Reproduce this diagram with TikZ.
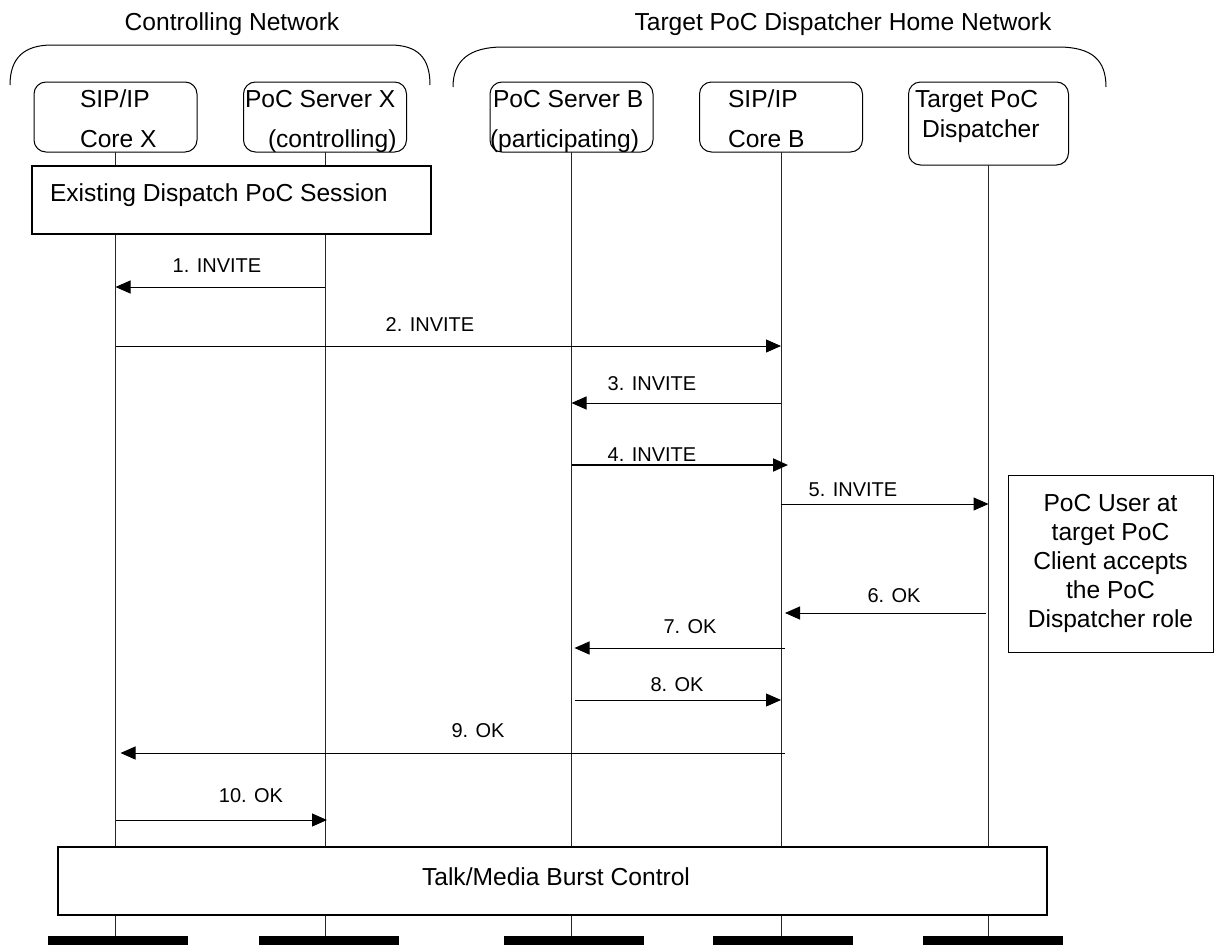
\documentclass[tikz,border=0pt]{standalone}
\usepackage{fontspec}
\setmainfont{Liberation Sans}
\usetikzlibrary{arrows.meta}
\begin{document}
\begin{tikzpicture}[x=1pt,y=-1pt,
  every node/.style={inner sep=0pt, outer sep=0pt},
  big/.style={font=\fontsize{24.6pt}{29pt}\selectfont},
  small/.style={font=\fontsize{20pt}{24pt}\selectfont},
  ent/.style={draw, rounded corners=12pt, line width=1pt, minimum width=163pt, minimum height=70pt},
  txt/.style={big, anchor=base west},
  life/.style={line width=0.9pt, draw=black!85},
  msg/.style={line width=1pt, -{Triangle[length=15pt,width=13pt]}},
  msgb/.style={line width=2pt, -{Triangle[length=15pt,width=13pt]}},
  lab/.style={small, anchor=center},
  sbox/.style={draw, fill=white, line width=1.3pt},
  barn/.style={fill=black, minimum width=140pt, minimum height=9pt},
  net/.style={line width=1pt}]
\useasboundingbox (0,0) rectangle (1219,945);

% network titles and brackets
\node[big, anchor=base] (tn1) at (232,30) {Controlling Network};
\node[big, anchor=base] (tn2) at (843,30) {Target PoC Dispatcher Home Network};
\draw[net] (10,85) .. controls (10,58) and (24,45) .. (52,45) -- (390,45)
  .. controls (418,45) and (430,58) .. (430,85);
\draw[net] (453,87) .. controls (453,60) and (470,47) .. (503,47) -- (1058,47)
  .. controls (1092,47) and (1106,60) .. (1106,87);

% entity boxes
\node[ent] (cx) at (115.5,117) {};
\node[ent] (px) at (325,117) {};
\node[ent] (pb) at (571.5,117) {};
\node[ent] (cb) at (781,117) {};
\node[ent, minimum width=160pt, minimum height=83pt] (td) at (988.5,123.5) {};

\node[txt] (cx1) at (80,107) {SIP/IP};
\node[txt] (cx2) at (80,147) {Core X};
\node[txt] (px1) at (245,107) {PoC Server X};
\node[txt] (px2) at (268,147) {(controlling)};
\node[txt] (pb1) at (493,107) {PoC Server B};
\node[txt] (pb2) at (490,147) {(participating)};
\node[txt] (cb1) at (728,107) {SIP/IP};
\node[txt] (cb2) at (728,147) {Core B};
\node[txt] (td1) at (915,107) {Target PoC};
\node[txt] (td2) at (922,137) {Dispatcher};

% bottom bars
\node[barn] (b1) at (118,940.5) {};
\node[barn] (b2) at (328.5,940.5) {};
\node[barn] (b3) at (573.5,940.5) {};
\node[barn] (b4) at (783,940.5) {};
\node[barn] (b5) at (993,940.5) {};

% lifelines
\draw[life] (cx.south) -- (cx.south |- b1.north);
\draw[life] (px.south) -- (px.south |- b2.north);
\draw[life] (pb.south) -- (pb.south |- b3.north);
\draw[life] (cb.south) -- (cb.south |- b4.north);
\draw[life] (td.south) -- (td.south |- b5.north);

% session boxes
\node[sbox, minimum width=399pt, minimum height=68pt] (ex) at (231.5,200) {};
\node[txt] (ext) at (50,201) {Existing Dispatch PoC Session};
\node[sbox, minimum width=989pt, minimum height=68pt] (tk) at (552.5,881) {};
\node[big, anchor=center] (tkt) at (556,877) {Talk/Media Burst Control};

% note
\node[sbox, line width=1pt, minimum width=205pt, minimum height=177pt, align=center, big]
  (note) at (1110.5,563.5) {PoC User at\\target PoC\\Client accepts\\the PoC\\Dispatcher role};

% messages
\draw[msg] (px |- 0,287) -- (cx |- 0,287);
\node[lab] (l1) at (217,266) {1. INVITE};
\draw[msg] (cx |- 0,346) -- (cb |- 0,346);
\node[lab] (l2) at (430,325) {2. INVITE};
\draw[msg] (cb |- 0,403) -- (pb |- 0,403);
\node[lab] (l3) at (652,384) {3. INVITE};
\draw[msgb] (pb |- 0,465) -- ([xshift=7pt]cb |- 0,465);
\node[lab] (l4) at (652,455) {4. INVITE};
\draw[msg] (cb |- 0,504) -- (td |- 0,504);
\node[lab] (l5) at (853,490) {5. INVITE};
\draw[msg] ([xshift=-3pt]td |- 0,613) -- ([xshift=4pt]cb |- 0,613);
\node[lab] (l6) at (894,596) {6. OK};
\draw[msg] ([xshift=4pt]cb |- 0,648) -- ([xshift=3pt]pb |- 0,648);
\node[lab] (l7) at (690,627) {7. OK};
\draw[msg] ([xshift=3pt]pb |- 0,700) -- (cb |- 0,700);
\node[lab] (l8) at (677,685) {8. OK};
\draw[msg] ([xshift=4pt]cb |- 0,753) -- ([xshift=5pt]cx |- 0,753);
\node[lab] (l9) at (478,731) {9. OK};
\draw[msg] (cx |- 0,820) -- ([xshift=2pt]px |- 0,820);
\node[lab] (l10) at (251,796) {10. OK};
\end{tikzpicture}
\end{document}
